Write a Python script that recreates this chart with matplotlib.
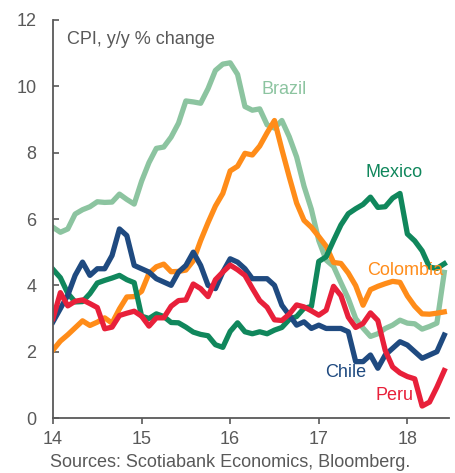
import matplotlib
matplotlib.use("Agg")
import matplotlib.pyplot as plt
import numpy as np

plt.rcParams['font.family'] = ['Liberation Sans', 'DejaVu Sans']

# Monthly CPI, y/y % change, Jan 2014 - Jun 2018
brazil = [5.75, 5.6, 5.7, 6.15, 6.28, 6.37, 6.52, 6.50, 6.51, 6.75, 6.59, 6.45,
          7.14, 7.70, 8.13, 8.17, 8.47, 8.89, 9.56, 9.53, 9.49, 9.93, 10.48, 10.67,
          10.71, 10.36, 9.39, 9.28, 9.32, 8.84, 8.74, 8.97, 8.48, 7.87, 6.99, 6.29,
          5.35, 4.76, 4.57, 4.08, 3.60, 3.00, 2.71, 2.46, 2.54, 2.70, 2.80, 2.95,
          2.86, 2.84, 2.68, 2.76, 2.86, 4.39]
mexico = [4.48, 4.23, 3.76, 3.50, 3.51, 3.75, 4.07, 4.15, 4.22, 4.30, 4.17, 4.08,
          3.07, 3.00, 3.14, 3.06, 2.88, 2.87, 2.74, 2.59, 2.52, 2.48, 2.21, 2.13,
          2.61, 2.87, 2.60, 2.54, 2.60, 2.54, 2.65, 2.73, 2.97, 3.06, 3.31, 3.36,
          4.72, 4.86, 5.35, 5.82, 6.16, 6.31, 6.44, 6.66, 6.35, 6.37, 6.63, 6.77,
          5.55, 5.34, 5.04, 4.55, 4.51, 4.65]
colombia = [2.05, 2.32, 2.51, 2.72, 2.93, 2.79, 2.89, 3.02, 2.86, 3.29, 3.65, 3.66,
            3.82, 4.36, 4.56, 4.64, 4.41, 4.42, 4.46, 4.74, 5.35, 5.89, 6.39, 6.77,
            7.45, 7.59, 7.98, 7.93, 8.20, 8.60, 8.97, 8.10, 7.27, 6.48, 5.96, 5.75,
            5.47, 5.18, 4.69, 4.66, 4.37, 3.99, 3.40, 3.87, 3.97, 4.05, 4.12, 4.09,
            3.68, 3.37, 3.14, 3.13, 3.16, 3.20]
chile = [2.9, 3.3, 3.7, 4.3, 4.7, 4.3, 4.5, 4.5, 4.9, 5.7, 5.5, 4.6,
         4.5, 4.4, 4.2, 4.1, 4.0, 4.4, 4.6, 5.0, 4.6, 4.0, 3.9, 4.4,
         4.8, 4.7, 4.5, 4.2, 4.2, 4.2, 4.0, 3.4, 3.1, 2.8, 2.9, 2.7,
         2.8, 2.7, 2.7, 2.7, 2.6, 1.7, 1.7, 1.9, 1.5, 1.9, 2.1, 2.3,
         2.2, 2.0, 1.8, 1.9, 2.0, 2.5]
peru = [3.0, 3.78, 3.38, 3.52, 3.56, 3.45, 3.33, 2.69, 2.74, 3.09, 3.16, 3.22,
        3.07, 2.77, 3.02, 3.02, 3.37, 3.54, 3.56, 4.04, 3.90, 3.66, 4.17, 4.40,
        4.61, 4.47, 4.30, 3.91, 3.54, 3.34, 2.96, 2.94, 3.13, 3.41, 3.35, 3.23,
        3.10, 3.25, 3.97, 3.69, 3.04, 2.73, 2.85, 3.17, 2.94, 2.04, 1.54, 1.36,
        1.25, 1.18, 0.36, 0.48, 0.93, 1.43]

x_ticks = [14, 15, 16, 17, 18]
x_labels = ["14", "15", "16", "17", "18"]
y_ticks = [0, 2, 4, 6, 8, 10, 12]

x = 14 + np.arange(len(brazil)) / 12.0

c_brazil = '#8cc4a0'
c_mexico = '#10875c'
c_colombia = '#ff8c19'
c_chile = '#1f4a80'
c_peru = '#e8203a'
gray = '#595959'

fig = plt.figure(figsize=(4.56, 4.73), dpi=100)
ax = fig.add_axes([53/456, 1-418/473, (449-53)/456, (418-20)/473])

lw = 3.8
ax.plot(x, brazil, color=c_brazil, lw=lw, solid_joinstyle='round')
ax.plot(x, colombia, color=c_colombia, lw=lw, solid_joinstyle='round')
ax.plot(x, mexico, color=c_mexico, lw=lw, solid_joinstyle='round')
ax.plot(x, chile, color=c_chile, lw=lw, solid_joinstyle='round')
ax.plot(x, peru, color=c_peru, lw=lw, solid_joinstyle='round')

ax.set_xlim(14, 18.47)
ax.set_ylim(0, 12)
ax.set_xticks(x_ticks)
ax.set_xticklabels(x_labels)
ax.set_yticks(y_ticks)

for s in ['top', 'right']:
    ax.spines[s].set_visible(False)
for s in ['left', 'bottom']:
    ax.spines[s].set_color(gray)
    ax.spines[s].set_linewidth(1.3)
    ax.spines[s].set_clip_on(False)

fs = 13
ax.tick_params(axis='y', direction='in', length=4, width=1.2, color=gray,
               labelcolor=gray, labelsize=fs, pad=12)
ax.tick_params(axis='x', direction='out', length=4, width=1.2, color=gray,
               labelcolor=gray, labelsize=fs, pad=5)

ax.text(14.16, 11.4, "CPI, y/y % change", color=gray, fontsize=fs, ha='left', va='center')
ax.text(16.35, 9.89, "Brazil", color=c_brazil, fontsize=fs, ha='left', va='center')
ax.text(17.53, 7.39, "Mexico", color=c_mexico, fontsize=fs, ha='left', va='center')
ax.text(17.545, 4.46, "Colombia", color=c_colombia, fontsize=fs, ha='left', va='center')
ax.text(17.07, 1.36, "Chile", color=c_chile, fontsize=fs, ha='left', va='center')
ax.text(17.64, 0.69, "Peru", color=c_peru, fontsize=fs, ha='left', va='center')

fig.text(50/456, 1-462/473, "Sources: Scotiabank Economics, Bloomberg.", color=gray,
         fontsize=fs, ha='left', va='center')

fig.savefig("out.png", dpi=100)
